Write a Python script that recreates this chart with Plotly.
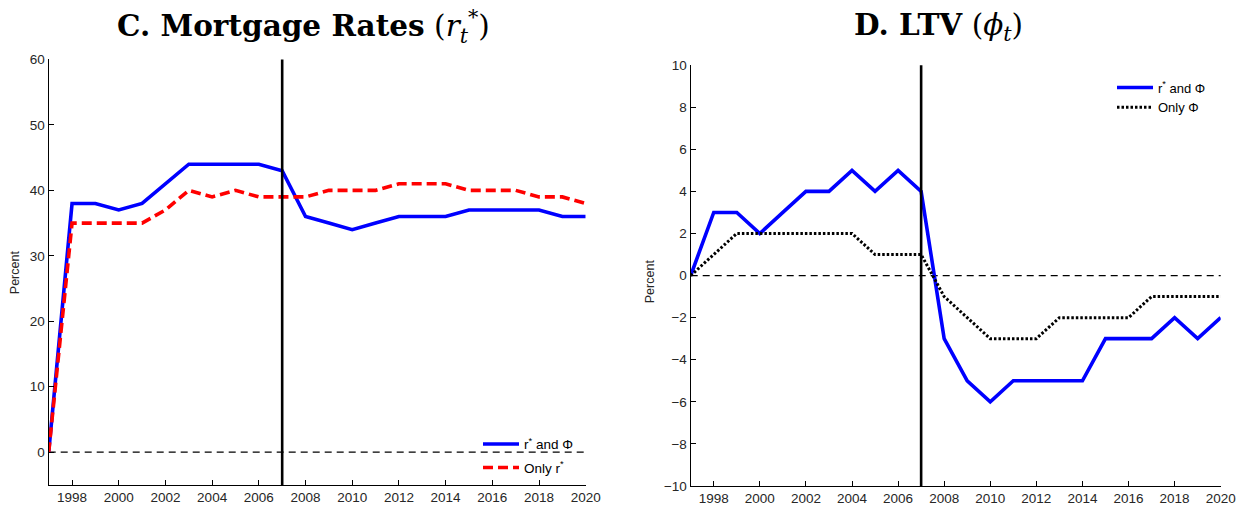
import plotly.graph_objects as go

years = list(range(1997, 2021))

# Panel C: Mortgage rates
mort_both = [0, 38, 38, 37, 38, 41, 44, 44, 44, 44, 43, 36, 35, 34, 35, 36, 36, 36, 37, 37, 37, 37, 36, 36]
mort_only_r = [0, 35, 35, 35, 35, 37, 40, 39, 40, 39, 39, 39, 40, 40, 40, 41, 41, 41, 40, 40, 40, 39, 39, 38]

# Panel D: LTV
ltv_both = [0, 3, 3, 2, 3, 4, 4, 5, 4, 5, 4, -3, -5, -6, -5, -5, -5, -5, -3, -3, -3, -2, -3, -2]
ltv_only_phi = [0, 1, 2, 2, 2, 2, 2, 2, 1, 1, 1, -1, -2, -3, -3, -3, -2, -2, -2, -2, -1, -1, -1, -1]

event_year = 2007
baseline = 0

left_yticks = [0, 10, 20, 30, 40, 50, 60]
right_yticks = [-10, -8, -6, -4, -2, 0, 2, 4, 6, 8, 10]
xticks = list(range(1998, 2021, 2))

# layout helpers: map target picture pixels to paper fractions
SX = 1262 / 1247
SY = 525 / 508
OFF = 8
W, H = 1262, 518
BLUE = "#0000FF"
RED = "#FF0000"
TICKCOL = "#262626"
SANS = "Liberation Sans, Arial, sans-serif"
tickfont = dict(family=SANS, size=13.5, color=TICKCOL)


def px_x(p):
    return (p * SX) / W


def px_y(p):
    return 1 - (p * SY - OFF) / H


fig = go.Figure()

fig.add_trace(go.Scatter(x=years, y=mort_both, mode="lines", name="r<sup>*</sup> and Φ",
                         line=dict(color=BLUE, width=3.6), xaxis="x", yaxis="y",
                         legend="legend", legendgroup="a"))
fig.add_trace(go.Scatter(x=years, y=mort_only_r, mode="lines", name="Only r<sup>*</sup>",
                         line=dict(color=RED, width=3.6, dash="10px,5px"), xaxis="x", yaxis="y",
                         legend="legend", legendgroup="b"))

fig.add_trace(go.Scatter(x=years, y=ltv_both, mode="lines", name="r<sup>*</sup> and Φ",
                         line=dict(color=BLUE, width=3.6), xaxis="x2", yaxis="y2",
                         legend="legend2", legendgroup="c"))
fig.add_trace(go.Scatter(x=years, y=ltv_only_phi, mode="lines", name="Only Φ",
                         line=dict(color="black", width=3, dash="2.5px,2px"), xaxis="x2", yaxis="y2",
                         legend="legend2", legendgroup="d"))

axis_common = dict(showline=True, linecolor="black", linewidth=1.4, ticks="inside", ticklen=5,
                   tickcolor="black", tickwidth=1.3, showgrid=False, zeroline=False, tickfont=tickfont,
                   mirror=False)

fig.update_layout(
    width=W, height=H, margin=dict(l=0, r=0, t=0, b=0),
    paper_bgcolor="white", plot_bgcolor="white",
    xaxis=dict(domain=[px_x(48.7), px_x(585.7)], range=[1997, 2020], tickvals=xticks,
               anchor="y", **axis_common),
    yaxis=dict(domain=[px_y(484), px_y(60)], range=[-5, 60], tickvals=left_yticks,
               anchor="x", **axis_common),
    xaxis2=dict(domain=[px_x(690.7), px_x(1220.7)], range=[1997, 2020], tickvals=xticks,
                anchor="y2", **axis_common),
    yaxis2=dict(domain=[px_y(485), px_y(65.7)], range=[-10, 10], tickvals=right_yticks,
                anchor="x2", **axis_common),
    legend=dict(x=px_x(478), y=px_y(428), xanchor="left", yanchor="top",
                bgcolor="rgba(0,0,0,0)", font=dict(family=SANS, size=13.5, color="black"),
                tracegroupgap=3, itemwidth=36),
    legend2=dict(x=px_x(1112), y=px_y(73), xanchor="left", yanchor="top",
                 bgcolor="rgba(0,0,0,0)", font=dict(family=SANS, size=13, color="black"),
                 tracegroupgap=0, itemwidth=36),
    showlegend=True,
)

# reference lines
for xa, ya in (("x", "y"), ("x2", "y2")):
    fig.add_shape(type="line", xref=xa, yref=ya + " domain", x0=event_year, x1=event_year, y0=0, y1=1,
                  line=dict(color="black", width=2.6), layer="above")
    fig.add_shape(type="line", xref=xa + " domain", yref=ya, x0=0, x1=1, y0=baseline, y1=baseline,
                  line=dict(color="black", width=1.2, dash="7px,5px"), layer="below")

title_font = dict(family="DejaVu Serif, Liberation Serif, serif", size=29.5, color="black")
fig.add_annotation(text="<b>C. Mortgage Rates</b> (<i>r</i><sub><i>t</i></sub><sup>*</sup>)",
                   x=px_x(303), y=px_y(27), xref="paper", yref="paper", showarrow=False,
                   font=title_font, xanchor="center", yanchor="middle")
fig.add_annotation(text="<b>D. LTV</b> (<i>ϕ</i><sub><i>t</i></sub>)",
                   x=px_x(939), y=px_y(27), xref="paper", yref="paper", showarrow=False,
                   font=title_font, xanchor="center", yanchor="middle")

ylab_font = dict(family=SANS, size=12.5, color=TICKCOL)
fig.add_annotation(text="Percent", x=px_x(15), y=px_y(272), xref="paper", yref="paper", showarrow=False,
                   textangle=-90, font=ylab_font, xanchor="center", yanchor="middle")
fig.add_annotation(text="Percent", x=px_x(650), y=px_y(281), xref="paper", yref="paper", showarrow=False,
                   textangle=-90, font=ylab_font, xanchor="center", yanchor="middle")

fig.write_html("out.html")
